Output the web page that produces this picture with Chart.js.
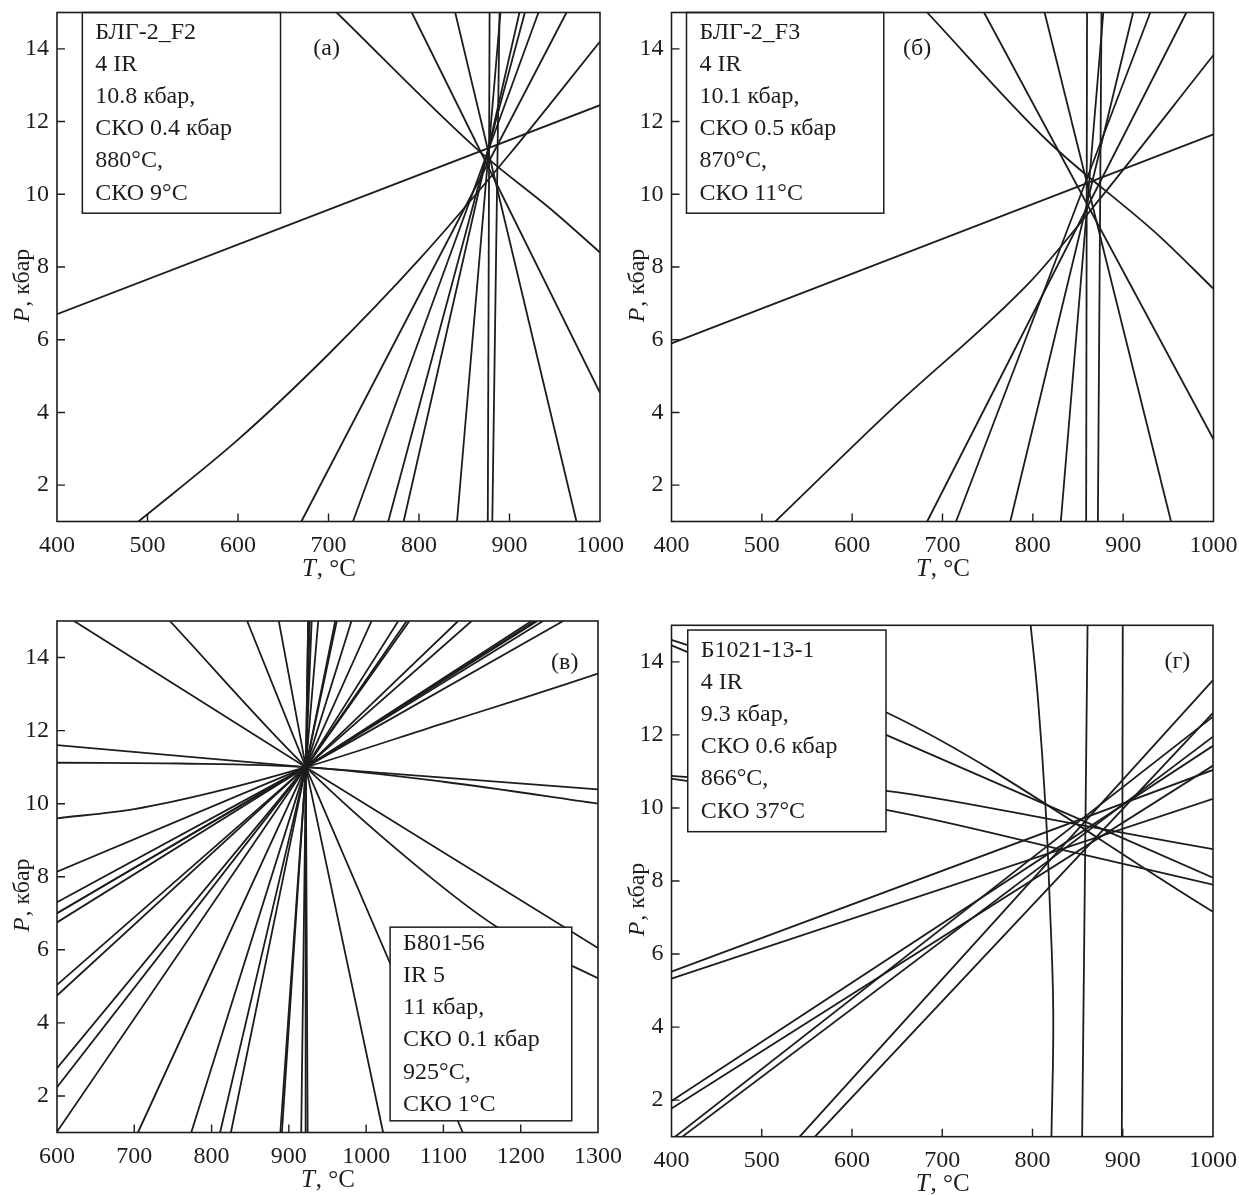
<!DOCTYPE html>
<html><head><meta charset="utf-8">
<script src="https://cdn.jsdelivr.net/npm/chart.js@4.4.1/dist/chart.umd.min.js"></script>
<style>
body{margin:0;background:#fff}
#wrap{position:relative;width:1239px;height:1195px;background:#fff;overflow:hidden}
canvas{position:absolute}
</style></head>
<body><div id="wrap">
<canvas id="ca" width="650" height="600" style="left:0;top:0"></canvas>
<canvas id="cc" width="650" height="595" style="left:0;top:600px"></canvas>
<canvas id="cb" width="619" height="600" style="left:620px;top:0"></canvas>
<canvas id="cd" width="619" height="595" style="left:620px;top:600px"></canvas>
</div>
<script>
// ---------- DATA ----------
const yTicks = [2, 4, 6, 8, 10, 12, 14];
const xTicksA = [400, 500, 600, 700, 800, 900, 1000];
const xTicksB = [400, 500, 600, 700, 800, 900, 1000];
const xTicksC = [600, 700, 800, 900, 1000, 1100, 1200, 1300];
const xTicksD = [400, 500, 600, 700, 800, 900, 1000];

// panel (а): reaction lines [T, P]
const straightA = [
  [[670,1],[963,15]],
  [[727,1],[932,15]],
  [[766,1],[917,15]],
  [[783,1],[911,15]],
  [[842,1],[890,15]],
  [[876,1],[878,15]],
  [[881,1],[889,15]],
  [[974,1],[840,15]],
  [[1000,4.54],[792,15]],
  [[400,6.7],[1000,12.45]]
];
const curvedA = [
  [[490,1],[600,3.25],[700,5.6],[800,8.2],[900,11.1],[1000,14.2]],
  [[709,15],[866,11.2],[950,9.5],[1000,8.4]]
];

// panel (б)
const straightB = [
  [[683,1],[970,15]],
  [[715,1],[930,15]],
  [[775,1],[911,15]],
  [[831,1],[878,15]],
  [[859,1],[860,15]],
  [[872,1],[876,15]],
  [[953,1],[813,15]],
  [[1000,3.26],[746,15]],
  [[400,5.9],[1000,11.65]]
];
const curvedB = [
  [[515,1],[640,4],[798,7.62],[862,9.5],[1000,13.83]],
  [[683,15],[815,11.5],[940,8.85],[1000,7.4]]
];

// panel (в): lines all crossing at one point
const centerC = [922, 11];
const pairsC = [
  [[622,15],[1300,6.05]],
  [[887,15],[1022,1]],
  [[846,15],[1125,1]],
  [[925,15],[924.3,1]],
  [[925,15],[921.7,1]],
  [[927,15],[916,1]],
  [[929.5,15],[891,1]],
  [[938,15],[889,1]],
  [[960,15],[825,1]],
  [[962,15],[811,1]],
  [[981,15],[773.7,1]],
  [[1007,15],[704.7,1]],
  [[1041.6,15],[600,1.02]],
  [[1052.5,15],[600,2.24]],
  [[1056,15],[600,2.76]],
  [[1119,15],[600,4.75]],
  [[1136.5,15],[600,5.04]],
  [[1214,15],[600,6.75]],
  [[1218.5,15],[600,7.0]],
  [[1221.5,15],[600,7.0]],
  [[1229,15],[600,7.3]],
  [[1255,15],[600,8.14]],
  [[600,11.6],[1300,10.39]]
];
const curvedC = [
  [[746,15],[922,11],[1087,7.92],[1174,6.56],[1300,5.22]],
  [[600,11.12],[760,11.1],[922,11],[1100,10.6],[1300,10.0]],
  [[600,9.6],[700,9.85],[800,10.3],[922,11],[1100,12.2],[1200,12.87],[1300,13.56]]
];

// panel (г)
const straightD = [
  [[542,1],[1000,13.5]],
  [[559,1],[1000,12.6]],
  [[404,1],[1000,12.5]],
  [[412,1],[1000,11.95]],
  [[400,1.98],[1000,11.7]],
  [[400,1.77],[1000,11.16]],
  [[400,5.52],[1000,11.04]],
  [[400,5.33],[1000,10.25]],
  [[855,1],[861,15]],
  [[899,1],[900,15]]
];
const curvedD = [
  [[400,14.6],[637.7,12.62],[1000,7.16]],
  [[400,14.45],[637.7,12.0],[1000,8.09]],
  [[400,10.88],[637.7,10.47],[860,9.5],[1000,8.87]],
  [[400,10.8],[637.7,9.95],[860,8.7],[1000,7.9]]
];
const steepCurveD = [[798,15],[806,13],[814.5,10],[819,7.5],[823,4.4],[821,1]];

// box texts
const textA = ['БЛГ-2_F2', '4 IR', '10.8 кбар,', 'СКО 0.4 кбар', '880°C,', 'СКО 9°C'];
const textB = ['БЛГ-2_F3', '4 IR', '10.1 кбар,', 'СКО 0.5 кбар', '870°C,', 'СКО 11°C'];
const textC = ['Б801-56', 'IR 5', '11 кбар,', 'СКО 0.1 кбар', '925°C,', 'СКО 1°C'];
const textD = ['Б1021-13-1', '4 IR', '9.3 кбар,', 'СКО 0.6 кбар', '866°C,', 'СКО 37°C'];

// ---------- STYLE / LAYOUT ----------
const INK = '#1d1d1d';
const FONT = '"Liberation Serif", "Times New Roman", serif';
const LW = 1.8;

const panels = [
  {canvas:'ca', w:650, h:600, plot:{l:57, r:600, t:12.5, b:521.5}, xMin:400, xMax:1000, xTicks:xTicksA,
   straight:straightA, curved:curvedA, free:[], box:{t1:428, t2:647, p1:15, p2:9.48}, text:textA, label:'(а)', labelAt:[698,14]},
  {canvas:'cb', w:619, h:600, plot:{l:51.5, r:593.5, t:12.5, b:521.5}, xMin:400, xMax:1000, xTicks:xTicksB,
   straight:straightB, curved:curvedB, free:[], box:{t1:416.6, t2:635, p1:15, p2:9.48}, text:textB, label:'(б)', labelAt:[672,14]},
  {canvas:'cc', w:650, h:595, plot:{l:57, r:598, t:21, b:532.5}, xMin:600, xMax:1300, xTicks:xTicksC,
   straight:pairsC.map(([a, b]) => [a, centerC, b]), curved:curvedC, free:[], box:{t1:1031, t2:1266, p1:6.62, p2:1.32}, text:textC, label:'(в)', labelAt:[1257,13.85]},
  {canvas:'cd', w:619, h:595, plot:{l:51.5, r:593, t:25.3, b:536.7}, xMin:400, xMax:1000, xTicks:xTicksD,
   straight:straightD, curved:curvedD, free:[steepCurveD], box:{t1:418, t2:637.7, p1:14.87, p2:9.35}, text:textD, label:'(г)', labelAt:[960.5,14]}
];

function ds(pts, mode) {
  const d = {
    data: pts.map(([x, y]) => ({x, y})),
    showLine: true, pointRadius: 0, pointHoverRadius: 0,
    borderColor: INK, borderWidth: LW, fill: false,
    borderCapStyle: 'butt', borderJoinStyle: 'round', tension: 0
  };
  if (mode === 'mono') d.cubicInterpolationMode = 'monotone';
  if (mode === 'free') d.tension = 0.4;
  return d;
}

const decorPlugin = {
  id: 'decor',
  afterDatasetsDraw(chart, args, o) {
    const ctx = chart.ctx, xs = chart.scales.x, ys = chart.scales.y, a = chart.chartArea;
    ctx.save();
    // box with text
    const bx1 = xs.getPixelForValue(o.box.t1), bx2 = xs.getPixelForValue(o.box.t2);
    const by1 = ys.getPixelForValue(o.box.p1), by2 = ys.getPixelForValue(o.box.p2);
    ctx.fillStyle = '#fff';
    ctx.fillRect(bx1, by1, bx2 - bx1, by2 - by1);
    ctx.strokeStyle = INK; ctx.lineWidth = 1.5;
    ctx.strokeRect(bx1, by1, bx2 - bx1, by2 - by1);
    ctx.fillStyle = INK;
    ctx.font = '24px ' + FONT;
    ctx.textBaseline = 'middle'; ctx.textAlign = 'left';
    const n = o.text.length, lh = 32.2;
    const y0 = (by1 + by2) / 2 - (n - 1) * lh / 2;
    o.text.forEach((s, i) => ctx.fillText(s, bx1 + 13, y0 + i * lh));
    // panel label
    ctx.textAlign = 'center';
    ctx.font = '24px ' + FONT;
    ctx.fillText(o.label, xs.getPixelForValue(o.labelAt[0]), ys.getPixelForValue(o.labelAt[1]));
    // frame
    ctx.lineWidth = 1.6; ctx.strokeStyle = INK;
    ctx.strokeRect(a.left, a.top, a.right - a.left, a.bottom - a.top);
    // inward ticks
    ctx.lineWidth = 1.4;
    ctx.beginPath();
    xs.ticks.forEach(t => {
      const px = xs.getPixelForValue(t.value);
      if (px > a.left + 2 && px < a.right - 2) { ctx.moveTo(px, a.bottom); ctx.lineTo(px, a.bottom - 8); }
    });
    ys.ticks.forEach(t => {
      const py = ys.getPixelForValue(t.value);
      if (py > a.top + 2 && py < a.bottom - 2) { ctx.moveTo(a.left, py); ctx.lineTo(a.left + 8, py); }
    });
    ctx.stroke();
    // axis titles
    ctx.textBaseline = 'middle';
    function mixed(x, y, italicPart, rest, size) {
      const f1 = 'italic ' + size + 'px ' + FONT, f2 = size + 'px ' + FONT;
      ctx.font = f1; const w1 = ctx.measureText(italicPart).width;
      ctx.font = f2; const w2 = ctx.measureText(rest).width;
      const start = x - (w1 + w2) / 2;
      ctx.textAlign = 'left';
      ctx.font = f1; ctx.fillText(italicPart, start, y);
      ctx.font = f2; ctx.fillText(rest, start + w1 + 1, y);
    }
    mixed((a.left + a.right) / 2, a.bottom + 48, 'T', ', °C', 25);
    ctx.save();
    ctx.translate(a.left - 34, (a.top + a.bottom) / 2 + 19);
    ctx.rotate(-Math.PI / 2);
    mixed(0, 0, 'P', ', кбар', 24);
    ctx.restore();
    ctx.restore();
  }
};

panels.forEach(p => {
  const datasets = [
    ...p.straight.map(l => ds(l, 'line')),
    ...p.curved.map(l => ds(l, 'mono')),
    ...p.free.map(l => ds(l, 'free'))
  ];
  new Chart(document.getElementById(p.canvas), {
    type: 'scatter',
    data: { datasets },
    options: {
      responsive: false, animation: false, devicePixelRatio: 1,
      layout: { padding: { left: 0, top: p.plot.t, right: p.w - p.plot.r, bottom: 0 } },
      plugins: { legend: { display: false }, tooltip: { enabled: false }, decor: {
        box: p.box, text: p.text, label: p.label, labelAt: p.labelAt } },
      events: [],
      scales: {
        x: {
          type: 'linear', min: p.xMin, max: p.xMax,
          afterBuildTicks: s => { s.ticks = p.xTicks.map(v => ({ value: v })); },
          afterFit: s => { s.height = p.h - p.plot.b; s.paddingLeft = 0; s.paddingRight = 0; },
          grid: { display: false, drawTicks: false }, border: { display: false },
          ticks: { color: INK, font: { family: FONT, size: 24 }, padding: 10, maxRotation: 0, autoSkip: false,
                   callback: v => String(v) }
        },
        y: {
          type: 'linear', min: 1, max: 15,
          afterBuildTicks: s => { s.ticks = yTicks.map(v => ({ value: v })); },
          afterFit: s => { s.width = p.plot.l; s.paddingTop = 0; s.paddingBottom = 0; },
          grid: { display: false, drawTicks: false }, border: { display: false },
          ticks: { color: INK, font: { family: FONT, size: 24 }, padding: 8, autoSkip: false,
                   callback: v => String(v) }
        }
      }
    },
    plugins: [decorPlugin]
  });
});
</script>
</body></html>
